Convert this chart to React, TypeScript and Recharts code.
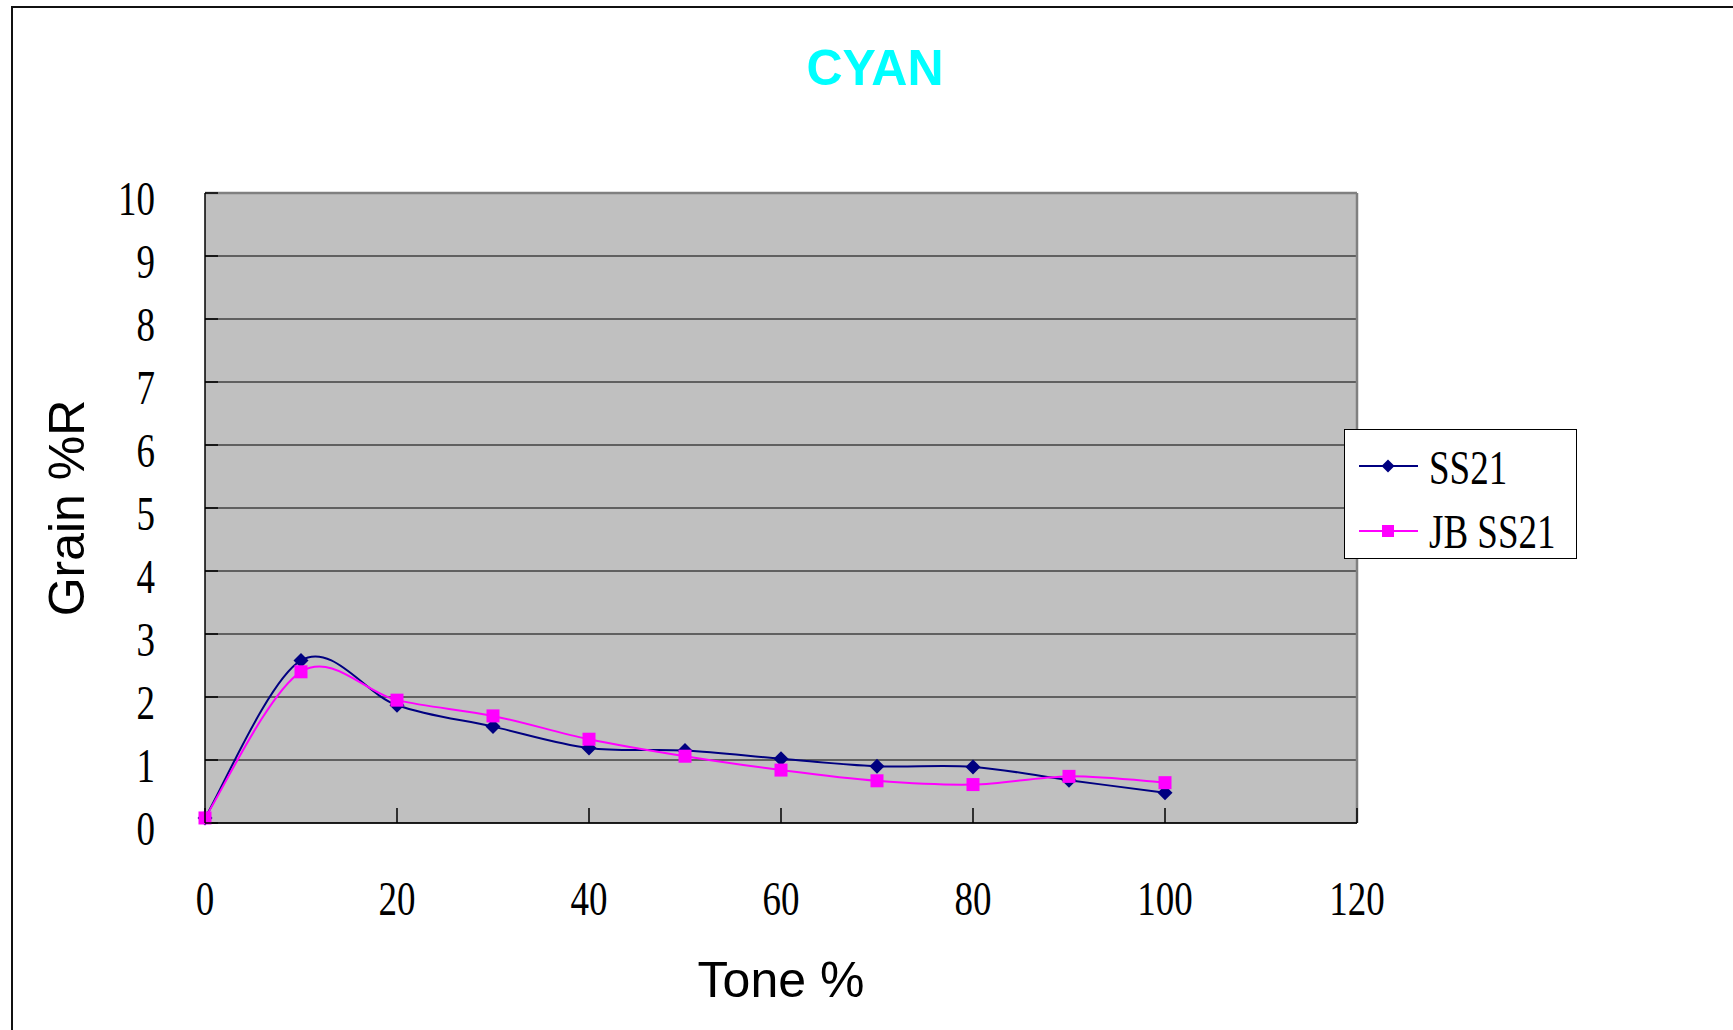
import React from "react";
import {
  LineChart,
  Line,
  XAxis,
  YAxis,
  CartesianGrid,
  ReferenceLine,
  Legend,
  Customized,
} from "recharts";

// ---- data ----
const TONE = [0, 10, 20, 30, 40, 50, 60, 70, 80, 90, 100];
const SS21 = [0.08, 2.58, 1.87, 1.53, 1.19, 1.15, 1.02, 0.9, 0.89, 0.68, 0.48];
const JB_SS21 = [0.08, 2.4, 1.95, 1.7, 1.33, 1.06, 0.84, 0.67, 0.61, 0.74, 0.64];
const X_TICKS = [0, 20, 40, 60, 80, 100, 120];
const Y_TICKS = [0, 1, 2, 3, 4, 5, 6, 7, 8, 9, 10];
const SERIES_NAMES = ["SS21", "JB SS21"];
const TITLE = "CYAN";
const X_TITLE = "Tone %";
const Y_TITLE = "Grain %R";

const data = TONE.map((t, i) => ({ tone: t, ss21: SS21[i], jb: JB_SS21[i] }));

const SERIF = "'Liberation Serif', 'Times New Roman', serif";
const SANS = "'Liberation Sans', Arial, sans-serif";
const NAVY = "#000080";
const MAGENTA = "#FF00FF";

// Excel-like smoothing (Catmull-Rom as cubic Bezier)
const excelCurve = (context: any) => {
  let pts: number[][] = [];
  return {
    areaStart() {},
    areaEnd() {},
    lineStart() {
      pts = [];
    },
    point(x: number, y: number) {
      pts.push([+x, +y]);
    },
    lineEnd() {
      const n = pts.length;
      if (!n) return;
      context.moveTo(pts[0][0], pts[0][1]);
      for (let i = 0; i < n - 1; i++) {
        const p0 = pts[Math.max(i - 1, 0)];
        const p1 = pts[i];
        const p2 = pts[i + 1];
        const p3 = pts[Math.min(i + 2, n - 1)];
        const c1x = p1[0] + (p2[0] - p0[0]) / 6;
        const c1y = p1[1] + (p2[1] - p0[1]) / 6;
        const c2x = p2[0] - (p3[0] - p1[0]) / 6;
        const c2y = p2[1] - (p3[1] - p1[1]) / 6;
        context.bezierCurveTo(c1x, c1y, c2x, c2y, p2[0], p2[1]);
      }
    },
  };
};

const diamondPath = (cx: number, cy: number, r: number) =>
  `M${cx},${cy - r}L${cx + r},${cy}L${cx},${cy + r}L${cx - r},${cy}Z`;

const DiamondDot = (props: any) => {
  const { cx, cy, index } = props;
  if (cx == null || cy == null) return <g key={`dd-${index}`} />;
  return <path key={`dd-${index}`} d={diamondPath(cx, cy, 7.5)} fill={NAVY} stroke="none" />;
};

const SquareDot = (props: any) => {
  const { cx, cy, index } = props;
  if (cx == null || cy == null) return <g key={`sd-${index}`} />;
  return <rect key={`sd-${index}`} x={cx - 6.5} y={cy - 6.5} width={13} height={13} fill={MAGENTA} stroke="none" />;
};

const XTick = (props: any) => {
  const { x, y, payload } = props;
  return (
    <g>
      <line x1={x} x2={x} y1={y} y2={y - 15} stroke="#000" strokeWidth={1.5} />
      <text
        transform={`translate(${x},${y + 92}) scale(1,1.3)`}
        textAnchor="middle"
        fontSize={37}
        fontFamily={SERIF}
        fill="#000"
      >
        {payload.value}
      </text>
    </g>
  );
};

const YTick = (props: any) => {
  const { x, y, payload } = props;
  return (
    <g>
      <line x1={x} x2={x + 13} y1={y} y2={y} stroke="#000" strokeWidth={1.5} />
      <text
        transform={`translate(${x - 50},${y + 22}) scale(1,1.3)`}
        textAnchor="end"
        fontSize={37}
        fontFamily={SERIF}
        fill="#000"
      >
        {payload.value}
      </text>
    </g>
  );
};

const Titles = () => (
  <g>
    <text x={875} y={85} textAnchor="middle" fontSize={50} fontWeight="bold" fontFamily={SANS} fill="#00FFFF">
      {TITLE}
    </text>
    <text x={781} y={997} textAnchor="middle" fontSize={50} fontFamily={SANS} fill="#000">
      {X_TITLE}
    </text>
    <text transform="translate(84,508) rotate(-90)" textAnchor="middle" fontSize={50} fontFamily={SANS} fill="#000">
      {Y_TITLE}
    </text>
  </g>
);

const LegendBox = () => (
  <svg width={234} height={131} style={{ display: "block" }}>
    <rect x={0.5} y={0.5} width={232} height={129} fill="#fff" stroke="#000" strokeWidth={1} />
    <line x1={15} x2={74} y1={37} y2={37} stroke={NAVY} strokeWidth={2} />
    <path d={diamondPath(44, 37, 6.5)} fill={NAVY} />
    <text transform="translate(85,55) scale(1,1.3)" fontSize={37} fontFamily={SERIF} fill="#000">
      {SERIES_NAMES[0]}
    </text>
    <line x1={15} x2={74} y1={102} y2={102} stroke={MAGENTA} strokeWidth={2} />
    <rect x={38} y={96} width={12} height={12} fill={MAGENTA} />
    <text transform="translate(85,119) scale(1,1.3)" fontSize={37} fontFamily={SERIF} fill="#000">
      {SERIES_NAMES[1]}
    </text>
  </svg>
);

export default function App() {
  return (
    <div
      style={{
        position: "fixed",
        left: 0,
        top: 0,
        width: 1733,
        height: 1030,
        overflow: "hidden",
        background: "#fff",
      }}
    >
      <div
        style={{
          position: "absolute",
          left: 11,
          top: 6,
          width: 1800,
          height: 1100,
          border: "2px solid #111",
        }}
      />
      <div style={{ position: "absolute", left: 0, top: 0 }}>
        <LineChart
          width={1733}
          height={1030}
          data={data}
          margin={{ top: 193, right: 376, bottom: 0, left: 0 }}
        >
          <CartesianGrid vertical={false} horizontal={true} stroke="#000" strokeWidth={1} fill="#C0C0C0" />
          <XAxis
            dataKey="tone"
            type="number"
            domain={[0, 120]}
            ticks={X_TICKS}
            interval={0}
            height={207}
            tickSize={0}
            tickMargin={0}
            tickLine={false}
            tick={<XTick />}
            axisLine={{ stroke: "#000", strokeWidth: 1.5 }}
          />
          <YAxis
            type="number"
            domain={[0, 10]}
            ticks={Y_TICKS}
            interval={0}
            width={205}
            tickSize={0}
            tickMargin={0}
            tickLine={false}
            tick={<YTick />}
            axisLine={{ stroke: "#000", strokeWidth: 1.5 }}
          />
          <ReferenceLine y={10} stroke="#808080" strokeWidth={2.5} />
          <ReferenceLine x={120} stroke="#808080" strokeWidth={2.5} />
          <Line
            dataKey="ss21"
            name={SERIES_NAMES[0]}
            type={excelCurve as any}
            stroke={NAVY}
            strokeWidth={2}
            dot={DiamondDot}
            activeDot={false}
            isAnimationActive={false}
          />
          <Line
            dataKey="jb"
            name={SERIES_NAMES[1]}
            type={excelCurve as any}
            stroke={MAGENTA}
            strokeWidth={2}
            dot={SquareDot}
            activeDot={false}
            isAnimationActive={false}
          />
          <Legend
            layout="vertical"
            align="center"
            verticalAlign="middle"
            content={() => <LegendBox />}
            wrapperStyle={{ position: "absolute", left: 1344, top: 429, width: 234, height: 131 }}
          />
          <Customized component={Titles} />
        </LineChart>
      </div>
    </div>
  );
}
